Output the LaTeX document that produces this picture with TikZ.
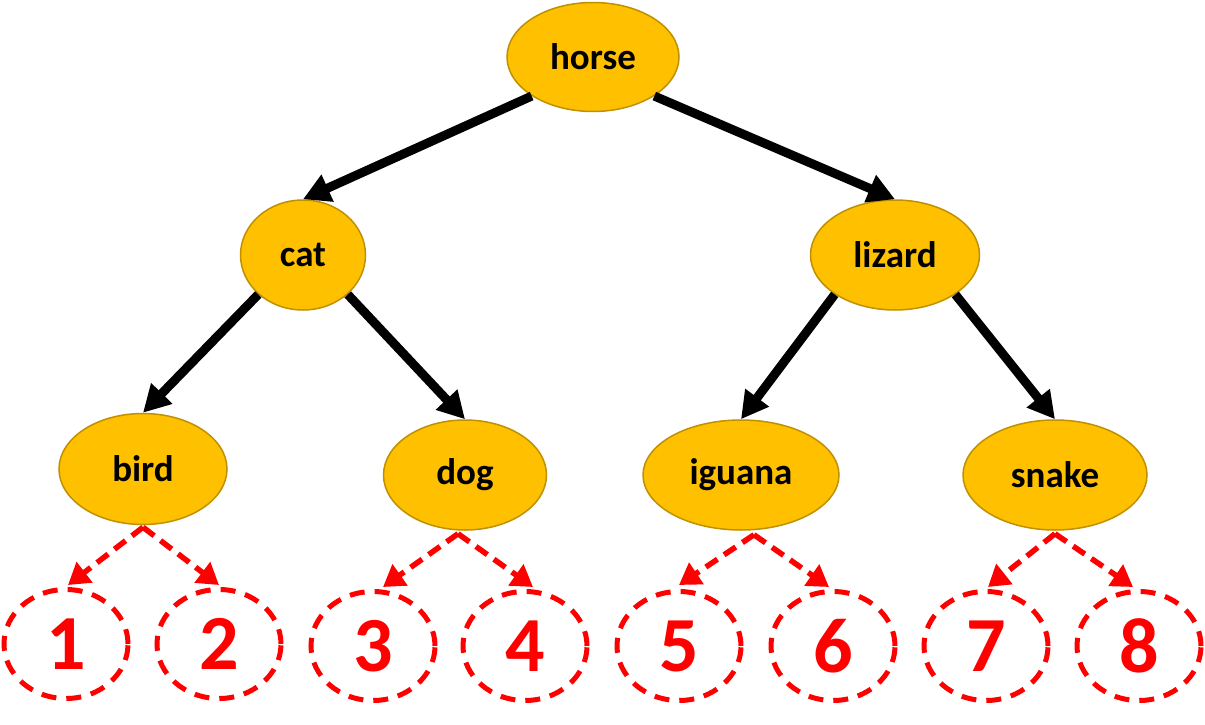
\documentclass[tikz,border=0pt]{standalone}
\usepackage{fontspec}
\setmainfont{Carlito}
\usetikzlibrary{shapes.geometric,arrows.meta}
\definecolor{gold}{HTML}{FFC000}
\definecolor{goldline}{HTML}{BF9000}
\begin{document}
\begin{tikzpicture}[x=1pt,y=-1pt,
  animal/.style={ellipse,draw=goldline,fill=gold,line width=1.5pt,inner sep=0pt,
    font=\fontsize{37}{37}\selectfont\bfseries},
  slot/.style={ellipse,draw=red,line width=5pt,dash pattern=on 15pt off 10pt,inner sep=0pt,
    minimum width=124pt,minimum height=109pt,text=red,font=\fontsize{78}{78}\selectfont\bfseries},
  link/.style={line width=9pt,-{Triangle[length=27pt,width=28pt]}},
  dlink/.style={red,line width=5.5pt,dash pattern=on 14pt off 8pt,-{Triangle[length=21pt,width=25pt]}}]
\useasboundingbox (0,0) rectangle (1205,725);
\node[animal,minimum width=172pt,minimum height=109pt] (horse) at (593,57) {horse};
\node[animal,minimum width=125pt,minimum height=110pt] (cat) at (303,255) {cat};
\node[animal,minimum width=169pt,minimum height=110pt] (lizard) at (895,255) {lizard};
\node[animal,minimum width=168pt,minimum height=111pt] (bird) at (143,469) {bird};
\node[animal,minimum width=163pt,minimum height=110pt] (dog) at (465,475) {dog};
\node[animal,minimum width=196pt,minimum height=110pt] (iguana) at (741,475) {iguana};
\node[animal,minimum width=184pt,minimum height=110pt] (snake) at (1055,475) {snake};
\node[slot] (s1) at (66,644) {1};
\node[slot] (s2) at (219,644) {2};
\node[slot] (s3) at (373,646) {3};
\node[slot] (s4) at (525,646) {4};
\node[slot] (s5) at (679,646) {5};
\node[slot] (s6) at (833,646) {6};
\node[slot] (s7) at (986,646) {7};
\node[slot] (s8) at (1139,646) {8};
\draw[link] (horse.south west) -- (cat.north);
\draw[link] (horse.south east) -- (lizard.north);
\draw[link] (cat.south west) -- (bird.north);
\draw[link] (cat.south east) -- (dog.north);
\draw[link] (lizard.south west) -- (iguana.north);
\draw[link] (lizard.south east) -- (snake.north);
\coordinate (bs) at ([yshift=-2pt]bird.south);
\coordinate (ds) at ([xshift=-7pt,yshift=-3pt]dog.south);
\coordinate (is) at ([xshift=13pt,yshift=-4pt]iguana.south);
\coordinate (ss) at ([yshift=-3pt]snake.south);
\draw[dlink] (bs) -- ([xshift=2pt,yshift=2pt]s1.north);
\draw[dlink] (bs) -- ([yshift=2pt]s2.north);
\draw[dlink] (ds) -- ([xshift=10pt,yshift=2pt]s3.north);
\draw[dlink] (ds) -- ([xshift=8pt,yshift=2pt]s4.north);
\draw[dlink] (is) -- ([yshift=4pt]s5.north);
\draw[dlink] (is) -- ([xshift=-4pt,yshift=2pt]s6.north);
\draw[dlink] (ss) -- ([xshift=2pt,yshift=2pt]s7.north);
\draw[dlink] (ss) -- ([xshift=-6pt,yshift=2pt]s8.north);
\end{tikzpicture}
\end{document}
